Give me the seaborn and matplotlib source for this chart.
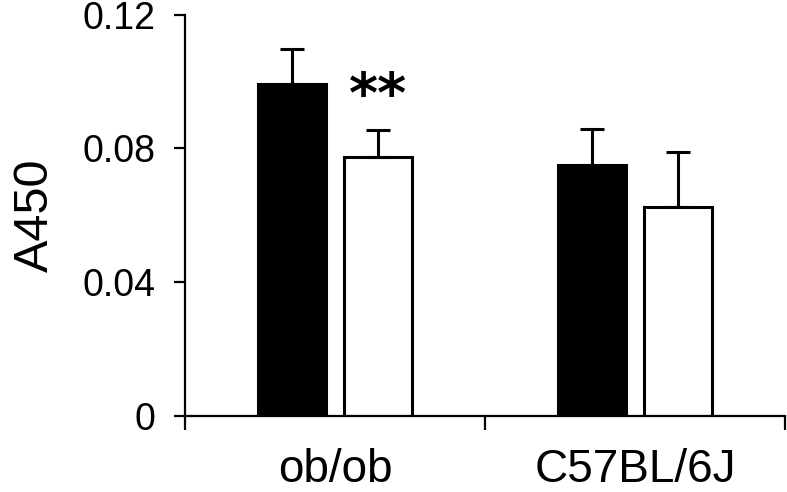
import numpy as np
import pandas as pd
import matplotlib
matplotlib.use("Agg")
import matplotlib.pyplot as plt
import seaborn as sns

groups = ["ob/ob", "C57BL/6J"]
conditions = ["black", "white"]
means_black = [0.0992, 0.0751]
means_white = [0.0773, 0.0626]
err_black = [0.0106, 0.0107]
err_white = [0.0082, 0.0162]
yticks = [0, 0.04, 0.08, 0.12]
ytick_labels = ["0", "0.04", "0.08", "0.12"]

df = pd.DataFrame({
    "group": groups * 2,
    "cond": [conditions[0]] * 2 + [conditions[1]] * 2,
    "value": means_black + means_white,
})
errs = {conditions[0]: err_black, conditions[1]: err_white}

sns.set_style("white")
plt.rcParams["font.family"] = ["Liberation Sans", "DejaVu Sans"]
for k in ["text.color", "axes.labelcolor", "xtick.color", "ytick.color"]:
    plt.rcParams[k] = "black"

fig = plt.figure(figsize=(7.87, 4.92), dpi=100)
ax = fig.add_axes([0.235, 0.1545, 0.7625, 0.8157])

sns.barplot(data=df, x="group", y="value", hue="cond", order=groups,
            hue_order=conditions, palette={"black": "black", "white": "white"},
            edgecolor="black", linewidth=2.2, width=0.57, gap=0.2,
            errorbar=None, legend=False, ax=ax)

for cond, cont in zip(conditions, ax.containers):
    xs = [b.get_x() + b.get_width() / 2 for b in cont]
    hs = [b.get_height() for b in cont]
    e = errs[cond]
    ax.errorbar(xs, hs, yerr=[np.zeros(len(e)), e], fmt="none",
                ecolor="black", elinewidth=2.2, capsize=8.6, capthick=2.2,
                zorder=1)

# significance marks above ob/ob white bar
wb = ax.containers[1][0]
ax.text(wb.get_x() + wb.get_width() / 2, wb.get_height() + err_white[0] + 0.0053,
        "**", ha="center", va="baseline", fontsize=40, family="DejaVu Sans",
        fontweight="bold")

ax.set_xlim(-0.5, 1.5)
ax.set_ylim(0, 0.12)
ax.set_yticks(yticks)
ax.set_yticklabels(ytick_labels, fontsize=27)
ax.set_xticks([0, 1])
ax.set_xticklabels(groups, fontsize=33)
ax.set_xticks([-0.5, 0.5, 1.5], minor=True)
ax.tick_params(axis="x", which="major", length=0, pad=23)
ax.tick_params(axis="x", which="minor", length=10, width=1.6, direction="out",
               bottom=True)
ax.tick_params(axis="y", length=8, width=1.6, direction="out", pad=13, left=True)
ax.set_xlabel("")
ax.set_ylabel("A450", fontsize=35, labelpad=18)

for s in ["top", "right"]:
    ax.spines[s].set_visible(False)
for s in ["left", "bottom"]:
    ax.spines[s].set_linewidth(1.6)
    ax.spines[s].set_color("black")

fig.savefig("out.png", dpi=100)
